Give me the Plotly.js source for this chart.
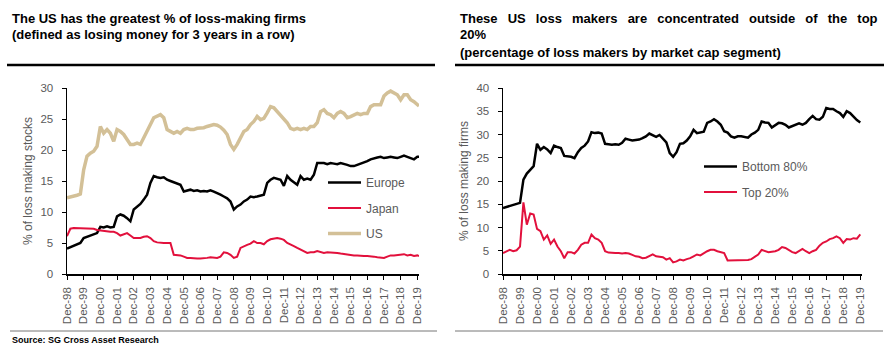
<!DOCTYPE html>
<html>
<head>
<meta charset="utf-8">
<script src="https://cdn.plot.ly/plotly-3.0.1.min.js"></script>
<style>html,body{margin:0;padding:0;background:#fff;}#chart{width:893px;height:357px;}</style>
</head>
<body>
<div id="chart"></div>
<script>
// Time positions: 1998 = Dec-98 tick, 2019 = Dec-19 tick (fractional years after December)
const tickYears = [1998,1999,2000,2001,2002,2003,2004,2005,2006,2007,2008,2009,2010,2011,2012,2013,2014,2015,2016,2017,2018,2019];
const tickLabels = ["Dec-98","Dec-99","Dec-00","Dec-01","Dec-02","Dec-03","Dec-04","Dec-05","Dec-06","Dec-07","Dec-08","Dec-09","Dec-10","Dec-11","Dec-12","Dec-13","Dec-14","Dec-15","Dec-16","Dec-17","Dec-18","Dec-19"];

// sampling dates (every 0.2 year from Dec-98)
const gridRight = [];
for (let y = 1998; y < 2019; y++) { for (const f of [0, 0.2, 0.4, 0.6, 0.8]) gridRight.push(+(y + f).toFixed(1)); }
gridRight.push(2019.0);
const gridLeft = gridRight.concat([2019.1]);

// Left chart: % of loss making stocks
const europe = [
  4.1,4.3,4.5,4.8,5.0,
  5.8,6.0,6.1,6.3,6.6,
  7.6,7.5,7.7,7.5,7.6,
  9.3,9.6,9.4,9.0,8.5,
  10.4,10.9,11.3,12.0,12.8,
  14.7,15.8,15.6,15.5,15.6,
  15.2,15.0,14.8,14.7,14.4,
  13.3,13.5,13.6,13.4,13.5,
  13.3,13.4,13.3,13.5,13.3,
  13.1,12.8,12.5,12.2,11.7,
  10.4,10.9,11.2,11.7,12.0,
  12.5,12.4,12.5,12.6,12.8,
  14.7,15.2,15.5,15.4,15.2,
  14.2,15.8,15.2,14.8,14.4,
  15.8,15.2,15.4,15.2,16.0,
  17.9,17.9,17.9,17.7,17.9,
  17.8,17.7,17.9,17.8,17.6,
  17.4,17.4,17.6,17.8,17.9,
  18.2,18.5,18.7,18.8,18.9,
  18.7,18.8,18.9,18.8,18.7,
  18.9,19.1,18.9,18.7,18.5,
  18.9,18.9];
const japan = [
  6.1,7.3,7.4,7.4,7.3,
  7.4,7.3,7.3,7.3,7.1,
  7.0,6.9,6.9,6.8,6.8,
  6.6,6.2,6.4,6.6,6.2,
  5.8,5.8,5.8,6.0,6.1,
  5.8,5.3,5.1,5.0,5.0,
  5.0,5.0,3.1,3.1,3.0,
  2.8,2.6,2.6,2.5,2.5,
  2.5,2.5,2.6,2.7,2.6,
  2.6,2.8,3.5,3.4,3.1,
  2.6,2.8,4.2,4.5,4.7,
  4.9,5.3,5.0,5.0,4.8,
  5.3,5.6,5.7,5.8,5.7,
  5.5,5.0,4.8,4.5,4.2,
  3.9,3.7,3.4,3.5,3.5,
  3.7,3.5,3.4,3.5,3.5,
  3.4,3.4,3.3,3.2,3.1,
  3.0,3.0,3.0,2.9,2.9,
  2.9,2.9,2.8,2.7,2.7,
  2.6,2.8,3.0,3.0,3.1,
  3.1,3.2,3.0,3.1,2.9,
  3.0,2.9];
const us = [
  12.3,12.4,12.6,12.7,12.9,
  16.8,19.0,19.5,19.8,20.6,
  23.8,22.7,23.3,22.7,21.4,
  23.3,23.0,22.5,21.7,20.9,
  20.9,21.1,20.9,21.9,23.0,
  24.1,25.2,25.4,25.7,25.2,
  23.3,23.0,22.7,23.0,22.7,
  23.3,23.5,23.3,23.3,23.5,
  23.5,23.6,23.8,23.9,24.1,
  24.0,23.7,23.2,22.5,20.9,
  20.1,20.9,21.9,23.0,23.3,
  24.1,24.6,25.4,24.9,25.1,
  26.0,27.0,26.8,26.2,25.7,
  24.9,24.4,23.5,23.3,23.5,
  23.3,23.5,23.3,23.8,23.8,
  24.4,26.2,26.5,25.9,25.7,
  25.2,25.9,26.2,25.9,25.2,
  25.4,25.7,25.9,25.7,25.9,
  25.9,27.0,27.3,27.3,27.3,
  28.7,29.2,29.5,29.2,28.9,
  28.1,28.9,28.9,28.1,27.8,
  27.3,27.1];

// Right chart: % of loss making firms by market cap segment
const bottom80 = [
  14.2,14.4,14.7,14.9,15.1,
  15.3,20.3,21.6,22.4,23.2,
  28.0,26.7,27.3,26.8,26.0,
  27.6,27.3,27.1,25.4,25.3,
  25.2,24.9,26.2,27.1,27.6,
  28.5,30.5,30.3,30.4,30.2,
  28.0,27.9,27.8,27.9,27.8,
  28.2,29.1,28.9,28.7,28.8,
  28.9,29.2,29.6,30.2,29.8,
  29.5,29.9,29.2,28.3,26.0,
  25.2,26.2,28.0,28.1,28.7,
  29.6,31.0,30.3,30.4,30.6,
  32.5,32.8,33.3,32.8,32.1,
  30.7,30.4,29.6,29.3,29.6,
  29.6,29.5,29.3,30.0,30.4,
  31.0,32.8,32.6,32.5,31.5,
  32.1,32.5,32.4,32.1,31.5,
  31.8,32.1,32.4,32.1,32.5,
  33.3,34.0,33.3,33.2,33.8,
  35.7,35.5,35.5,35.0,34.6,
  33.8,35.0,34.6,33.8,33.1,
  32.6];
const top20 = [
  4.5,4.9,5.2,4.9,5.1,
  5.9,15.4,10.6,13.0,12.8,
  9.7,9.2,7.4,8.3,6.5,
  7.4,5.9,4.9,3.4,4.7,
  4.7,4.4,5.2,6.3,6.7,
  6.7,8.5,7.7,7.4,6.7,
  4.9,4.6,4.5,4.5,4.5,
  4.4,4.5,4.4,4.1,3.8,
  3.7,3.4,3.5,3.8,4.2,
  3.8,3.7,3.6,3.1,3.4,
  2.5,2.7,3.1,2.9,3.2,
  3.4,3.8,4.2,4.0,4.5,
  4.9,5.2,5.2,4.9,4.7,
  4.5,2.9,2.9,3.0,2.9,
  2.9,2.9,3.0,3.2,3.8,
  4.2,5.2,4.9,4.7,4.8,
  4.9,5.2,5.8,5.6,5.1,
  4.7,4.5,4.9,5.4,4.9,
  4.5,4.9,5.2,6.1,6.7,
  7.0,7.5,7.7,8.1,7.7,
  6.7,7.5,7.4,7.7,7.6,
  8.5];

const FONT = "Arial, 'Liberation Sans', sans-serif";
const GRAY = "#5a5a5a";
const RED = "#e2103c";
const TAN = "#d3c097";

const traces = [
  {x: gridLeft, y: europe, name: "Europe", type: "scatter", mode: "lines", xaxis: "x", yaxis: "y",
   line: {color: "#000000", width: 2.5}, legend: "legend", legendgroup: "a"},
  {x: gridLeft, y: japan, name: "Japan", type: "scatter", mode: "lines", xaxis: "x", yaxis: "y",
   line: {color: RED, width: 2}, legend: "legend", legendgroup: "b"},
  {x: gridLeft, y: us, name: "US", type: "scatter", mode: "lines", xaxis: "x", yaxis: "y",
   line: {color: TAN, width: 3.5}, legend: "legend", legendgroup: "c"},
  {x: gridRight, y: bottom80, name: "Bottom 80%", type: "scatter", mode: "lines", xaxis: "x2", yaxis: "y2",
   line: {color: "#000000", width: 2.5}, legend: "legend2", legendgroup: "d"},
  {x: gridRight, y: top20, name: "Top 20%", type: "scatter", mode: "lines", xaxis: "x2", yaxis: "y2",
   line: {color: RED, width: 2}, legend: "legend2", legendgroup: "e"}
];

const W = 893, H = 357;
const px = v => v / W;
const py = v => (H - v) / H;

const xBase = {
  range: [1998, 2019.1], tickmode: "array", tickvals: tickYears, ticktext: tickLabels,
  tickangle: -90, ticks: "outside", ticklen: 4, tickwidth: 1, tickcolor: "#000",
  showline: true, linecolor: "#000", linewidth: 1.5, showgrid: false, zeroline: false,
  tickfont: {family: FONT, size: 11.5, color: GRAY}, ticklabelstandoff: 3, fixedrange: true
};
const xOverlay = {
  range: [1998, 2019.1], tickmode: "array", tickvals: tickYears, ticktext: tickYears.map(() => ""),
  ticks: "inside", ticklen: 3, tickwidth: 1, tickcolor: "#000", showticklabels: false,
  showline: false, showgrid: false, zeroline: false, fixedrange: true
};
const yBase = {
  ticks: "outside", ticklen: 4, tickwidth: 1, tickcolor: "#000",
  showline: true, linecolor: "#000", linewidth: 1.5, showgrid: false, zeroline: false,
  tickfont: {family: FONT, size: 11.5, color: GRAY}, ticklabelstandoff: 6, fixedrange: true
};

// justified first line of the right-hand title (wider word gaps)
const GAP = " \u2002";
const line1 = ["These","US","loss","makers","are","concentrated","outside","of","the","top"].join(GAP);

const layout = {
  width: W, height: H,
  margin: {l: 0, r: 0, t: 0, b: 0},
  paper_bgcolor: "#fff", plot_bgcolor: "#fff",
  font: {family: FONT, color: GRAY},
  showlegend: true,
  xaxis: Object.assign({}, xBase, {domain: [px(67), px(419)], anchor: "y"}),
  xaxis3: Object.assign({}, xOverlay, {overlaying: "x", anchor: "y"}),
  yaxis: Object.assign({}, yBase, {domain: [py(274), py(88)], range: [0, 30], dtick: 5, anchor: "x",
    title: {text: "% of loss making stocks", font: {family: FONT, size: 12, color: GRAY}, standoff: 5}}),
  xaxis2: Object.assign({}, xBase, {domain: [px(503), px(862)], anchor: "y2"}),
  xaxis4: Object.assign({}, xOverlay, {overlaying: "x2", anchor: "y2"}),
  yaxis2: Object.assign({}, yBase, {domain: [py(274), py(88)], range: [0, 40], dtick: 5, anchor: "x2",
    title: {text: "% of loss making firms", font: {family: FONT, size: 12, color: GRAY}, standoff: 5}}),
  legend: {x: px(323), y: py(168), xanchor: "left", yanchor: "top", bgcolor: "rgba(0,0,0,0)", itemwidth: 33,
    traceorder: "grouped", tracegroupgap: 6.5, font: {family: FONT, size: 12, color: GRAY}},
  legend2: {x: px(699), y: py(152), xanchor: "left", yanchor: "top", bgcolor: "rgba(0,0,0,0)", itemwidth: 33,
    traceorder: "grouped", tracegroupgap: 6.5, font: {family: FONT, size: 12, color: GRAY}},
  annotations: [
    {text: "The US has the greatest % of loss-making firms", x: px(10), y: py(18), xref: "paper", yref: "paper",
     xanchor: "left", yanchor: "middle", showarrow: false, font: {family: FONT, size: 13, color: "#000", weight: "bold"}},
    {text: "(defined as losing money for 3 years in a row)", x: px(10), y: py(35), xref: "paper", yref: "paper",
     xanchor: "left", yanchor: "middle", showarrow: false, font: {family: FONT, size: 13, color: "#000", weight: "bold"}},
    {text: line1, x: px(458), y: py(18), xref: "paper", yref: "paper",
     xanchor: "left", yanchor: "middle", showarrow: false, font: {family: FONT, size: 13, color: "#000", weight: "bold"}},
    {text: "20%", x: px(458), y: py(35), xref: "paper", yref: "paper",
     xanchor: "left", yanchor: "middle", showarrow: false, font: {family: FONT, size: 13, color: "#000", weight: "bold"}},
    {text: "(percentage of loss makers by market cap segment)", x: px(458), y: py(52), xref: "paper", yref: "paper",
     xanchor: "left", yanchor: "middle", showarrow: false, font: {family: FONT, size: 13, color: "#000", weight: "bold"}},
    {text: "Source: SG Cross Asset Research", x: px(10), y: py(340), xref: "paper", yref: "paper",
     xanchor: "left", yanchor: "middle", showarrow: false, font: {family: FONT, size: 9, color: "#000", weight: "bold"}}
  ],
  shapes: [
    {type: "line", xref: "paper", yref: "paper", x0: px(7), x1: px(435), y0: py(65), y1: py(65), line: {color: "#000", width: 2.5}},
    {type: "line", xref: "paper", yref: "paper", x0: px(455), x1: px(884), y0: py(65), y1: py(65), line: {color: "#000", width: 2.5}},
    {type: "line", xref: "paper", yref: "paper", x0: px(10), x1: px(437), y0: py(331), y1: py(331), line: {color: "#777", width: 1}},
    {type: "line", xref: "paper", yref: "paper", x0: px(455), x1: px(883), y0: py(331), y1: py(331), line: {color: "#777", width: 1}}
  ]
};

Plotly.newPlot("chart", traces, layout, {staticPlot: true, displayModeBar: false});
</script>
</body>
</html>
